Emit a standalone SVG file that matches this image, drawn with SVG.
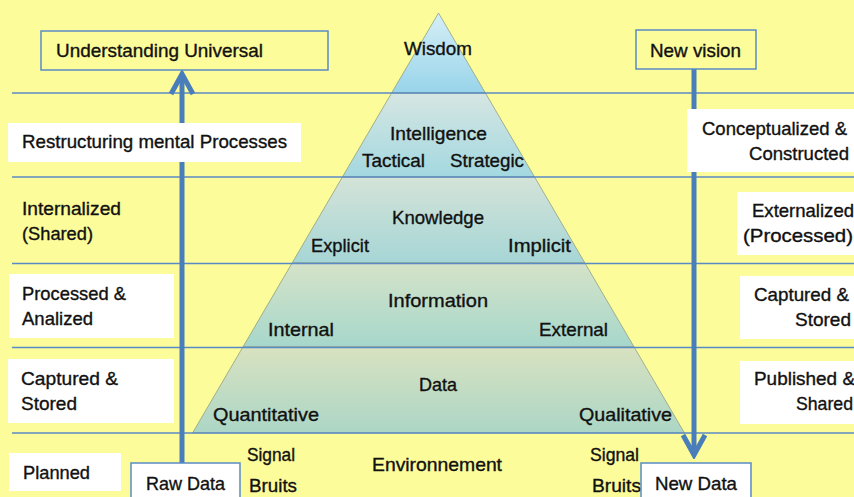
<svg xmlns="http://www.w3.org/2000/svg" width="854" height="497" viewBox="0 0 854 497">
<style>
  text { font-family: "Liberation Sans", Arial, sans-serif; font-size: 18.5px; fill: #111; stroke: #111; stroke-width: 0.35; }
  .hl { stroke: #5a8ac6; stroke-width: 1.3; fill: none; }
  .wbox { fill: #ffffff; stroke: none; }
  .obox { fill: none; stroke: #5a8ac6; stroke-width: 1.5; }
  .bbox { fill: #ffffff; stroke: #5a8ac6; stroke-width: 1.5; }
  .layer { stroke: #8f9f80; stroke-width: 0.8; }
  .arrow { stroke: #4a7ebb; stroke-width: 5; fill: none; }
</style>
<defs>
  <linearGradient id="gW" x1="0" y1="0" x2="0" y2="1">
    <stop offset="0" stop-color="#d6eff6"/><stop offset="1" stop-color="#98d4ea"/>
  </linearGradient>
  <linearGradient id="gI" x1="0" y1="0" x2="0" y2="1">
    <stop offset="0" stop-color="#d6e6e2"/><stop offset="1" stop-color="#a3d8e0"/>
  </linearGradient>
  <linearGradient id="gK" x1="0" y1="0" x2="0" y2="1">
    <stop offset="0" stop-color="#d4e3d8"/><stop offset="1" stop-color="#a6d6d6"/>
  </linearGradient>
  <linearGradient id="gN" x1="0" y1="0" x2="0" y2="1">
    <stop offset="0" stop-color="#d5e3c8"/><stop offset="1" stop-color="#a6d7cb"/>
  </linearGradient>
  <linearGradient id="gD" x1="0" y1="0" x2="0" y2="1">
    <stop offset="0" stop-color="#d8e2c0"/><stop offset="1" stop-color="#acd6c6"/>
  </linearGradient>
  <marker id="chev" viewBox="-30 -15 34 30" markerWidth="34" markerHeight="30" refX="0" refY="0" orient="auto" markerUnits="userSpaceOnUse">
    <path d="M-20,-11 L0,0 L-20,11" fill="none" stroke="#4a7ebb" stroke-width="5"/>
  </marker>
</defs>

<rect x="0" y="0" width="854" height="497" fill="#fdfc9a"/>

<!-- pyramid -->
<g id="pyramid">
  <g id="wisdom">
    <polygon class="layer" points="438.5,13 485.4,93 391.6,93" fill="url(#gW)"/>
    <text x="404" y="55" textLength="68" lengthAdjust="spacingAndGlyphs">Wisdom</text>
  </g>
  <g id="intelligence">
    <polygon class="layer" points="391.6,93 485.4,93 534.6,177 342.4,177" fill="url(#gI)"/>
    <text x="390" y="140" textLength="97" lengthAdjust="spacingAndGlyphs">Intelligence</text>
    <text x="362" y="167" textLength="63" lengthAdjust="spacingAndGlyphs">Tactical</text>
    <text x="450" y="167" textLength="74" lengthAdjust="spacingAndGlyphs">Strategic</text>
  </g>
  <g id="knowledge">
    <polygon class="layer" points="342.4,177 534.6,177 584.9,263 292.1,263" fill="url(#gK)"/>
    <text x="392" y="224" textLength="92" lengthAdjust="spacingAndGlyphs">Knowledge</text>
    <text x="311" y="252" textLength="58" lengthAdjust="spacingAndGlyphs">Explicit</text>
    <text x="508" y="252" textLength="63" lengthAdjust="spacingAndGlyphs">Implicit</text>
  </g>
  <g id="information">
    <polygon class="layer" points="292.1,263 584.9,263 634.1,347 242.9,347" fill="url(#gN)"/>
    <text x="388" y="307" textLength="100" lengthAdjust="spacingAndGlyphs">Information</text>
    <text x="268" y="336" textLength="66" lengthAdjust="spacingAndGlyphs">Internal</text>
    <text x="539" y="336" textLength="69" lengthAdjust="spacingAndGlyphs">External</text>
  </g>
  <g id="data">
    <polygon class="layer" points="242.9,347 634.1,347 684.5,433 192.5,433" fill="url(#gD)"/>
    <text x="419" y="391" textLength="38" lengthAdjust="spacingAndGlyphs">Data</text>
    <text x="213" y="421" textLength="106" lengthAdjust="spacingAndGlyphs">Quantitative</text>
    <text x="579" y="421" textLength="93" lengthAdjust="spacingAndGlyphs">Qualitative</text>
  </g>
</g>

<!-- level separator lines -->
<g id="levels">
  <line class="hl" x1="12" y1="93" x2="854" y2="93"/>
  <line class="hl" x1="12" y1="177" x2="854" y2="177"/>
  <line class="hl" x1="12" y1="263.5" x2="854" y2="263.5"/>
  <line class="hl" x1="12" y1="347.5" x2="854" y2="347.5"/>
  <line class="hl" x1="12" y1="433" x2="854" y2="433"/>
</g>

<!-- connectors -->
<g id="connectors">
  <line class="arrow" x1="182" y1="463" x2="182" y2="74" marker-end="url(#chev)"/>
  <line class="arrow" x1="694" y1="69" x2="694" y2="455" marker-end="url(#chev)"/>
</g>

<!-- left side -->
<g id="understanding-universal">
  <rect class="obox" x="41" y="31" width="287" height="39"/>
  <text x="56" y="57" textLength="207" lengthAdjust="spacingAndGlyphs">Understanding Universal</text>
</g>
<g id="restructuring">
  <rect class="wbox" x="8" y="123" width="293" height="39"/>
  <text x="22" y="148" textLength="265" lengthAdjust="spacingAndGlyphs">Restructuring mental Processes</text>
</g>
<g id="internalized">
  <text x="22" y="215" textLength="99" lengthAdjust="spacingAndGlyphs">Internalized</text>
  <text x="22" y="240" textLength="71" lengthAdjust="spacingAndGlyphs">(Shared)</text>
</g>
<g id="processed-analized">
  <rect class="wbox" x="9" y="274" width="165" height="64"/>
  <text x="22" y="300" textLength="104" lengthAdjust="spacingAndGlyphs">Processed &amp;</text>
  <text x="22" y="325" textLength="71" lengthAdjust="spacingAndGlyphs">Analized</text>
</g>
<g id="captured-stored-left">
  <rect class="wbox" x="8" y="359" width="166" height="64"/>
  <text x="21" y="385" textLength="97" lengthAdjust="spacingAndGlyphs">Captured &amp;</text>
  <text x="21" y="410" textLength="56" lengthAdjust="spacingAndGlyphs">Stored</text>
</g>
<g id="planned">
  <rect class="wbox" x="9" y="453" width="112" height="38"/>
  <text x="23" y="479" textLength="67" lengthAdjust="spacingAndGlyphs">Planned</text>
</g>
<g id="raw-data">
  <rect class="bbox" x="131" y="463" width="109" height="40"/>
  <text x="146" y="490" textLength="79" lengthAdjust="spacingAndGlyphs">Raw Data</text>
</g>

<!-- bottom environment -->
<g id="environment">
  <text x="247" y="461" textLength="48" lengthAdjust="spacingAndGlyphs">Signal</text>
  <text x="249" y="492" textLength="48" lengthAdjust="spacingAndGlyphs">Bruits</text>
  <text x="372" y="471" textLength="130" lengthAdjust="spacingAndGlyphs">Environnement</text>
  <text x="590" y="461" textLength="49" lengthAdjust="spacingAndGlyphs">Signal</text>
  <text x="592" y="492" textLength="49" lengthAdjust="spacingAndGlyphs">Bruits</text>
</g>

<!-- right side -->
<g id="new-vision">
  <rect class="obox" x="636" y="30" width="120" height="39"/>
  <text x="650" y="57" textLength="91" lengthAdjust="spacingAndGlyphs">New vision</text>
</g>
<g id="conceptualized">
  <rect class="wbox" x="687" y="109" width="170" height="63"/>
  <text x="702" y="135" textLength="145" lengthAdjust="spacingAndGlyphs">Conceptualized &amp;</text>
  <text x="749" y="160" textLength="100" lengthAdjust="spacingAndGlyphs">Constructed</text>
</g>
<g id="externalized">
  <rect class="wbox" x="737" y="192" width="120" height="63"/>
  <text x="752" y="217" textLength="102" lengthAdjust="spacingAndGlyphs">Externalized</text>
  <text x="743" y="242" textLength="110" lengthAdjust="spacingAndGlyphs">(Processed)</text>
</g>
<g id="captured-stored-right">
  <rect class="wbox" x="740" y="276" width="117" height="63"/>
  <text x="754" y="301" textLength="95" lengthAdjust="spacingAndGlyphs">Captured &amp;</text>
  <text x="795" y="326" textLength="56" lengthAdjust="spacingAndGlyphs">Stored</text>
</g>
<g id="published-shared">
  <rect class="wbox" x="740" y="361" width="117" height="63"/>
  <text x="754" y="385" textLength="101" lengthAdjust="spacingAndGlyphs">Published &amp;</text>
  <text x="796" y="410" textLength="57" lengthAdjust="spacingAndGlyphs">Shared</text>
</g>
<g id="new-data">
  <rect class="bbox" x="641" y="463" width="110" height="40"/>
  <text x="655" y="490" textLength="82" lengthAdjust="spacingAndGlyphs">New Data</text>
</g>
</svg>
